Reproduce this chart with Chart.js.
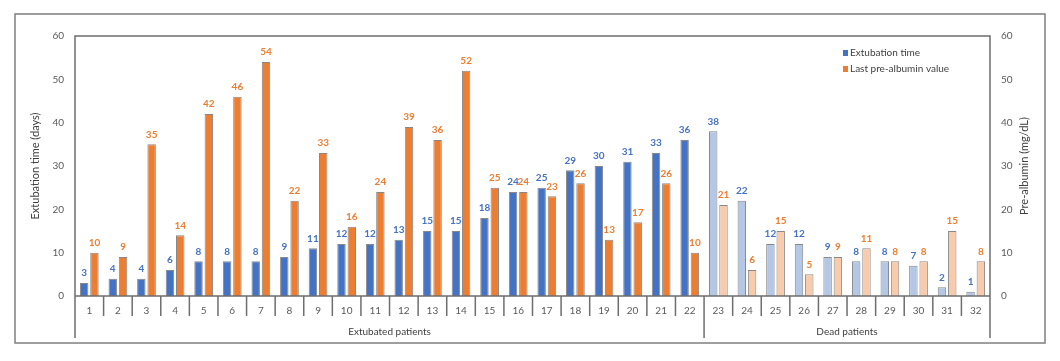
<!DOCTYPE html>
<html><head><meta charset="utf-8">
<script src="https://cdn.jsdelivr.net/npm/chart.js@4/dist/chart.umd.min.js"></script>
<style>html,body{margin:0;padding:0;background:#fff}#wrap{width:1060px;height:361px}</style>
</head><body><div id="wrap"><canvas id="c" width="1060" height="361"></canvas></div>
<script>
const patients = ['1','2','3','4','5','6','7','8','9','10','11','12','13','14','15','16','17','18','19','20','21','22','23','24','25','26','27','28','29','30','31','32'];
const extubationTime = [3,4,4,6,8,8,8,9,11,12,12,13,15,15,18,24,25,29,30,31,33,36,38,22,12,12,9,8,8,7,2,1];
const preAlbumin = [10,9,35,14,42,46,54,22,33,16,24,39,36,52,25,24,23,26,13,17,26,10,21,6,15,5,9,11,8,8,15,8];
const groupNames = ['Extubated patients','Dead patients'];
const groupSizes = [22,10];
const yTicks = [0,10,20,30,40,50,60];
const seriesNames = ['Extubation time','Last pre-albumin value'];
const axisTitles = ['Extubation time (days)','Pre-albumin (mg/dL)'];

const FONT = 'Lato, "Open Sans", sans-serif';
const darkCols = ['#4472C4','#ED7D31'];
const lightCols = ['#B4C7E7','#F8CBAD'];
const labelCols = ['#4472C4','#ED7D31'];
function colorsFor(si){
  const out=[];
  groupSizes.forEach((n,gi)=>{for(let k=0;k<n;k++) out.push(gi===0?darkCols[si]:lightCols[si]);});
  return out;
}

const deco = {
  id:'deco',
  afterDatasetsDraw(chart){
    const ctx=chart.ctx, ca=chart.chartArea, xs=chart.scales.x;
    const lineCol='#6e6e6e';
    ctx.save();
    // data labels
    ctx.font='bold 10px '+FONT;
    ctx.textAlign='center'; ctx.textBaseline='bottom';
    chart.data.datasets.forEach((ds,di)=>{
      const meta=chart.getDatasetMeta(di);
      meta.data.forEach((bar,i)=>{
        ctx.fillStyle=labelCols[di];
        ctx.fillText(String(ds.data[i]), bar.x, bar.y-5);
      });
    });
    // frame
    const bottomExt = ca.bottom+42;
    ctx.strokeStyle=lineCol; ctx.lineWidth=1.5;
    ctx.beginPath();
    ctx.moveTo(ca.left,bottomExt); ctx.lineTo(ca.left,ca.top); ctx.lineTo(ca.right,ca.top); ctx.lineTo(ca.right,bottomExt);
    ctx.moveTo(ca.left,ca.bottom); ctx.lineTo(ca.right,ca.bottom);
    ctx.stroke();
    // dividers
    const half=(xs.getPixelForValue(1)-xs.getPixelForValue(0))/2;
    let cum=0; const groupEnds=[]; groupSizes.forEach(n=>{cum+=n; groupEnds.push(cum);});
    ctx.beginPath();
    for(let i=1;i<patients.length;i++){
      const x=xs.getPixelForValue(i)-half;
      const isG=groupEnds.includes(i);
      ctx.moveTo(x,ca.bottom); ctx.lineTo(x,isG?bottomExt:ca.bottom+20);
    }
    ctx.stroke();
    // group labels
    ctx.font='10px '+FONT; ctx.fillStyle='#404040'; ctx.textBaseline='middle';
    let start=0;
    groupSizes.forEach((n,gi)=>{
      const x0=xs.getPixelForValue(start)-half, x1=xs.getPixelForValue(start+n-1)+half;
      ctx.fillText(groupNames[gi],(x0+x1)/2,ca.bottom+36);
      start+=n;
    });
    // axis titles
    const midY=(ca.top+ca.bottom)/2;
    [[35,0],[1024,1]].forEach(([x,k])=>{
      ctx.save(); ctx.translate(x,midY); ctx.rotate(-Math.PI/2);
      ctx.fillStyle='#404040'; ctx.font='11px '+FONT; ctx.textAlign='center'; ctx.textBaseline='middle';
      ctx.fillText(axisTitles[k],0,0); ctx.restore();
    });
    // legend
    ctx.font='10px '+FONT; ctx.textAlign='left'; ctx.textBaseline='middle';
    seriesNames.forEach((s,i)=>{
      const y=53+i*16;
      ctx.fillStyle=darkCols[i]; ctx.fillRect(843,y-3,5,6);
      ctx.fillStyle='#404040'; ctx.fillText(s,850,y);
    });
    // outer border
    ctx.strokeStyle='#7f7f7f'; ctx.lineWidth=1.5;
    ctx.strokeRect(15,14,1030,329);
    ctx.restore();
  }
};

const tickFont={family:FONT,size:10};
new Chart(document.getElementById('c'),{
  type:'bar',
  data:{labels:patients,datasets:[
    {label:seriesNames[0],data:extubationTime,yAxisID:'y',backgroundColor:colorsFor(0),borderColor:'rgba(115,115,115,0.85)',borderWidth:1,categoryPercentage:0.72,barPercentage:0.82},
    {label:seriesNames[1],data:preAlbumin,yAxisID:'y1',backgroundColor:colorsFor(1),borderColor:'rgba(115,115,115,0.85)',borderWidth:1,categoryPercentage:0.72,barPercentage:0.82}
  ]},
  options:{
    responsive:false, animation:false, devicePixelRatio:1,
    layout:{padding:{top:36,left:0,right:0,bottom:0}},
    plugins:{legend:{display:false},tooltip:{enabled:false}},
    scales:{
      x:{offset:true,grid:{display:false,drawTicks:false},border:{display:false},
         ticks:{font:tickFont,color:'#595959',padding:9,maxRotation:0,autoSkip:false},
         afterFit(s){s.height=65;}},
      y:{position:'left',min:0,max:60,grid:{display:false,drawTicks:false},border:{display:false},
         afterBuildTicks(s){s.ticks=yTicks.map(v=>({value:v}));},
         ticks:{font:tickFont,color:'#595959',padding:11},
         afterFit(s){s.width=75;}},
      y1:{position:'right',min:0,max:60,grid:{display:false,drawTicks:false},border:{display:false},
         afterBuildTicks(s){s.ticks=yTicks.map(v=>({value:v}));},
         ticks:{font:tickFont,color:'#595959',padding:11},
         afterFit(s){s.width=70;}}
    }
  },
  plugins:[deco]
});
</script></body></html>
